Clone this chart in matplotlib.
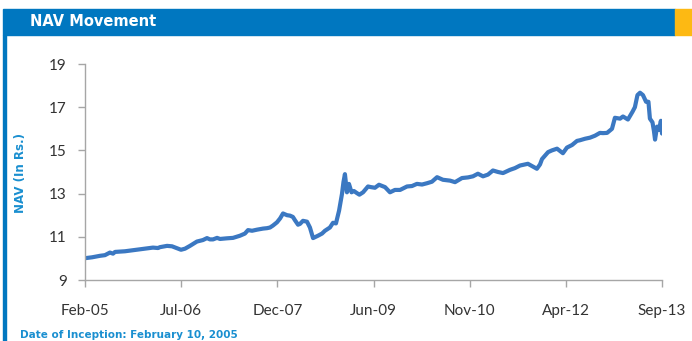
import matplotlib
matplotlib.use('Agg')
import matplotlib.pyplot as plt
import matplotlib.patches as patches
import numpy as np

# NAV series: days since inception and NAV (Rs.)
days = [0, 38, 82, 109, 136, 153, 164, 218, 262, 300, 338, 371, 399, 409, 448, 475,
        502, 524, 546, 573, 611, 644, 666, 682, 699, 721, 737, 775, 808, 846, 873,
        890, 912, 939, 972, 994, 1010, 1026, 1048, 1065, 1081, 1103, 1119, 1135,
        1146, 1163, 1174, 1190, 1212, 1228, 1245, 1272, 1294, 1310, 1337, 1354,
        1370, 1387, 1403, 1411, 1419, 1430, 1441, 1455, 1468, 1485, 1498, 1518,
        1545, 1561, 1583, 1605, 1638, 1665, 1692, 1720, 1758, 1785, 1812, 1840,
        1867, 1894, 1922, 1954, 1993, 2020, 2058, 2091, 2118, 2145, 2173, 2200,
        2227, 2255, 2282, 2320, 2347, 2375, 2418, 2446, 2467, 2484, 2495, 2528,
        2549, 2577, 2609, 2631, 2659, 2686, 2702, 2730, 2757, 2784, 2811, 2828,
        2850, 2877, 2893, 2921, 2937, 2964, 2989, 3002, 3016, 3030, 3046, 3063,
        3076, 3084, 3098, 3106, 3112, 3123, 3133, 3144, 3150]
nav = [10.01, 10.05, 10.12, 10.15, 10.27, 10.22, 10.30, 10.33, 10.38, 10.42, 10.47,
       10.50, 10.48, 10.52, 10.58, 10.56, 10.47, 10.40, 10.45, 10.58, 10.78, 10.85,
       10.94, 10.88, 10.88, 10.95, 10.90, 10.93, 10.95, 11.05, 11.15, 11.31, 11.28,
       11.33, 11.38, 11.40, 11.43, 11.52, 11.67, 11.85, 12.08, 12.00, 11.98, 11.92,
       11.77, 11.56, 11.60, 11.74, 11.70, 11.43, 10.94, 11.05, 11.15, 11.28, 11.43,
       11.65, 11.62, 12.21, 12.99, 13.53, 13.90, 13.06, 13.45, 13.06, 13.12, 13.02,
       12.95, 13.06, 13.33, 13.30, 13.27, 13.41, 13.30, 13.06, 13.17, 13.17, 13.33,
       13.35, 13.45, 13.42, 13.48, 13.55, 13.76, 13.64, 13.60, 13.53, 13.72, 13.75,
       13.80, 13.92, 13.80, 13.88, 14.07, 14.00, 13.95, 14.10, 14.18, 14.30, 14.38,
       14.25, 14.15, 14.35, 14.60, 14.92, 15.00, 15.08, 14.87, 15.13, 15.25, 15.44,
       15.47, 15.54, 15.59, 15.68, 15.81, 15.80, 15.81, 16.00, 16.51, 16.47, 16.57,
       16.43, 16.79, 17.00, 17.56, 17.67, 17.56, 17.25, 17.25, 16.47, 16.30, 15.90,
       15.50, 16.10, 15.95, 16.37, 15.78]

inception = np.datetime64('2005-02-10')
tick_step = 525  # days between x ticks
x_labels = ['Feb-05', 'Jul-06', 'Dec-07', 'Jun-09', 'Nov-10', 'Apr-12', 'Sep-13']
y_ticks = [9, 11, 13, 15, 17, 19]

blue = '#0077c0'
label_blue = '#1a8fd0'

fig = plt.figure(figsize=(6.92, 3.41), dpi=100)
W, H = 692, 341

# header bar, orange corner, left border
fig.patches.append(patches.Rectangle((3 / W, 1 - 35 / H), 672 / W, 26 / H,
                                     transform=fig.transFigure, color=blue, zorder=0))
fig.patches.append(patches.Rectangle((675 / W, 1 - 35 / H), 17 / W, 26 / H,
                                     transform=fig.transFigure, color='#fdb913', zorder=0))
fig.patches.append(patches.Rectangle((3 / W, 0), 2.5 / W, 1 - 35 / H,
                                     transform=fig.transFigure, color=blue, zorder=0))
fig.text(30 / W, 1 - 22 / H, 'NAV Movement', color='white', fontsize=10.5,
         fontweight='bold', va='center', ha='left')
fig.text(20 / W, 1 - 335 / H, 'Date of Inception: February 10, 2005',
         color=label_blue, fontsize=7.5, fontweight='bold', va='center', ha='left')

ax = fig.add_axes([85 / W, 1 - 280 / H, 577 / W, 216 / H])
x = inception + np.array(days).astype('timedelta64[D]')
ax.plot(x, nav, color='#3b78c2', lw=3.0, solid_joinstyle='round', solid_capstyle='round')

ax.set_ylim(9, 19)
ax.set_yticks(y_ticks)
ax.set_xlim(inception, inception + np.timedelta64(tick_step * 6, 'D'))
ax.set_xticks([inception + np.timedelta64(tick_step * i, 'D') for i in range(len(x_labels))])
ax.set_xticklabels(x_labels)

for s in ['top', 'right']:
    ax.spines[s].set_visible(False)
for s in ['left', 'bottom']:
    ax.spines[s].set_color('#a6a6a6')
    ax.spines[s].set_linewidth(1.0)
ax.tick_params(axis='both', colors='#a6a6a6', labelcolor='#333333', labelsize=11,
               length=5, width=1)
ax.tick_params(axis='x', pad=12)
ax.tick_params(axis='y', pad=8)
for lab in ax.get_xticklabels() + ax.get_yticklabels():
    lab.set_family('Lato')

ax.set_ylabel('NAV (In Rs.)', color=label_blue, fontsize=8.5, fontweight='bold')
ax.yaxis.set_label_coords(-(85 - 27) / 577, (280 - 173) / 216)

fig.savefig('out.png', dpi=100)
